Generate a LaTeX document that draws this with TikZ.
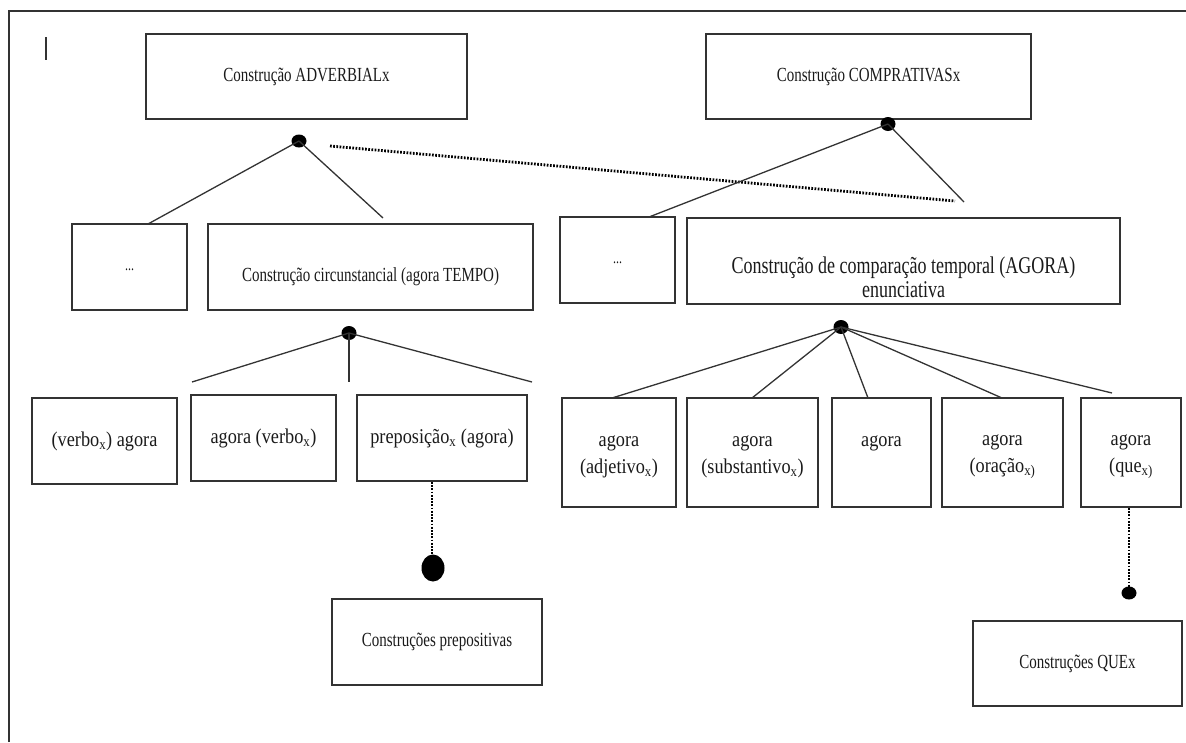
\documentclass[tikz,border=0pt]{standalone}
\usepackage{fontspec}
\setmainfont{Liberation Serif}[FakeStretch=0.75]
\newfontfamily\rowfont{Liberation Serif}[FakeStretch=0.87]
\usetikzlibrary{shapes.geometric}
\definecolor{ink}{HTML}{1A1A1A}
\definecolor{edge}{HTML}{333333}

\tikzset{
  box/.style={draw=edge, line width=1.4pt, rectangle, inner sep=0pt, align=center, text=ink},
  link/.style={draw=edge, line width=1.3pt},
  dotlink/.style={draw=black, line width=2.8pt, dash pattern=on 1.7pt off 1.5pt},
  knot/.style={ellipse, fill=black, inner sep=0pt},
  lbl/.style={text=ink, inner sep=0pt, align=center},
  bigf/.style={font=\fontsize{20}{24}\selectfont},
  hugef/.style={font=\fontsize{24}{24}\selectfont},
  rowf/.style={font=\rowfont\fontsize{21}{27}\selectfont},
  elf/.style={font=\fontsize{16}{18}\selectfont},
  frame/.style={draw=edge, line width=1.8pt},
}

\begin{document}
\begin{tikzpicture}[x=1pt, y=-1pt]
  \useasboundingbox (0,0) rectangle (1186,742);

  % page frame and cursor mark
  \draw[frame] (9,742) -- (9,11) -- (1186,11);
  \draw[draw=edge, line width=1.3pt] (46,37) -- (46,60);

  % top level
  \node[box, bigf, minimum width=321pt, minimum height=85pt] (adv) at (306.5,76.5) {Construção ADVERBIALx};
  \node[box, bigf, minimum width=325pt, minimum height=85pt] (comp) at (868.5,76.5) {Construção COMPRATIVASx};

  % second level
  \node[box, minimum width=115pt, minimum height=86pt] (dotsL) at (129.5,267) {};
  \node[lbl, elf] (dotsLt) at (129.5,270) {...};
  \node[box, minimum width=325pt, minimum height=86pt] (circ) at (370.5,267) {};
  \node[lbl, bigf] (circt) at (370.5,277) {Construção circunstancial (agora TEMPO)};
  \node[box, minimum width=115pt, minimum height=86pt] (dotsR) at (617.5,260) {};
  \node[lbl, elf] (dotsRt) at (617.5,263) {...};
  \node[box, minimum width=433pt, minimum height=86pt] (temp) at (903.5,261) {};
  \node[lbl, hugef] (tempt) at (903.5,277) {Construção de comparação temporal (AGORA)\\enunciativa};

  % third level, circumstantial branch
  \node[box, rowf, minimum width=145pt, minimum height=86pt] (vb1) at (104.5,441) {(verbo\textsubscript{x}) agora};
  \node[box, rowf, minimum width=145pt, minimum height=86pt] (vb2) at (263.5,438) {agora (verbo\textsubscript{x})};
  \node[box, rowf, minimum width=170pt, minimum height=86pt] (prep) at (442,438) {preposição\textsubscript{x} (agora)};

  % third level, comparative branch
  \node[box, minimum width=114pt, minimum height=109pt] (adj) at (619,452.5) {};
  \node[lbl, rowf] (adjt) at (619,456.5) {agora\\(adjetivo\textsubscript{x})};
  \node[box, minimum width=131pt, minimum height=109pt] (subst) at (752.5,452.5) {};
  \node[lbl, rowf] (substt) at (752.5,456.5) {agora\\(substantivo\textsubscript{x})};
  \node[box, minimum width=99pt, minimum height=109pt] (ag) at (881.5,452.5) {};
  \node[lbl, rowf] (agt) at (881.5,443) {agora};
  \node[box, minimum width=121pt, minimum height=109pt] (orac) at (1002.5,452.5) {};
  \node[lbl, rowf] (oract) at (1002.5,456.5) {agora\\(oração\textsubscript{x)}};
  \node[box, minimum width=100pt, minimum height=109pt] (que) at (1131,452.5) {};
  \node[lbl, rowf] (quet) at (1131,456.5) {agora\\(que\textsubscript{x)}};

  % bottom level
  \node[box, bigf, minimum width=210pt, minimum height=86pt] (prepc) at (437,642) {Construções prepositivas};
  \node[box, bigf, minimum width=209pt, minimum height=85pt] (quec) at (1077.5,663.5) {Construções QUEx};

  % junction dots
  \node[knot, minimum width=15pt, minimum height=13pt] (jadv) at (299,141) {};
  \node[knot, minimum width=15pt, minimum height=14pt] (jcomp) at (888,124) {};
  \node[knot, minimum width=15pt, minimum height=14pt] (jcirc) at (349,333) {};
  \node[knot, minimum width=15pt, minimum height=14pt] (jtemp) at (841,327) {};
  \node[knot, minimum width=23pt, minimum height=27pt] (jprep) at (433,568) {};
  \node[knot, minimum width=15pt, minimum height=13pt] (jque) at (1129,593) {};

  % free ends of the branches
  \coordinate (a1) at (148,224);
  \coordinate (a2) at (383,218);
  \coordinate (z1) at (330,146);
  \coordinate (z2) at (955,201);
  \coordinate (b1) at (649,217);
  \coordinate (b2) at (964,202);
  \coordinate (c1) at (192,382);
  \coordinate (c2) at (349,382);
  \coordinate (c3) at (532,382);
  \coordinate (e1) at (612,398);
  \coordinate (e2) at (752,398);
  \coordinate (e3) at (868,398);
  \coordinate (e4) at (1002,398);
  \coordinate (e5) at (1112,393);
  \coordinate (p1) at (432,482);
  \coordinate (p2) at (432,555);
  \coordinate (q1) at (1129,508);
  \coordinate (q2) at (1129,587);

  % branches
  \draw[link] (jadv.center) -- (a1);
  \draw[link] (jadv.center) -- (a2);
  \draw[dotlink] (z1) -- (z2);
  \draw[link] (jcomp.center) -- (b1);
  \draw[link] (jcomp.center) -- (b2);
  \draw[link] (jcirc.center) -- (c1);
  \draw[link] (jcirc.center) -- (c2);
  \draw[link] (jcirc.center) -- (c3);
  \draw[link] (jtemp.center) -- (e1);
  \draw[link] (jtemp.center) -- (e2);
  \draw[link] (jtemp.center) -- (e3);
  \draw[link] (jtemp.center) -- (e4);
  \draw[link] (jtemp.center) -- (e5);
  \draw[dotlink] (p1) -- (p2);
  \draw[dotlink] (q1) -- (q2);
\end{tikzpicture}
\end{document}
